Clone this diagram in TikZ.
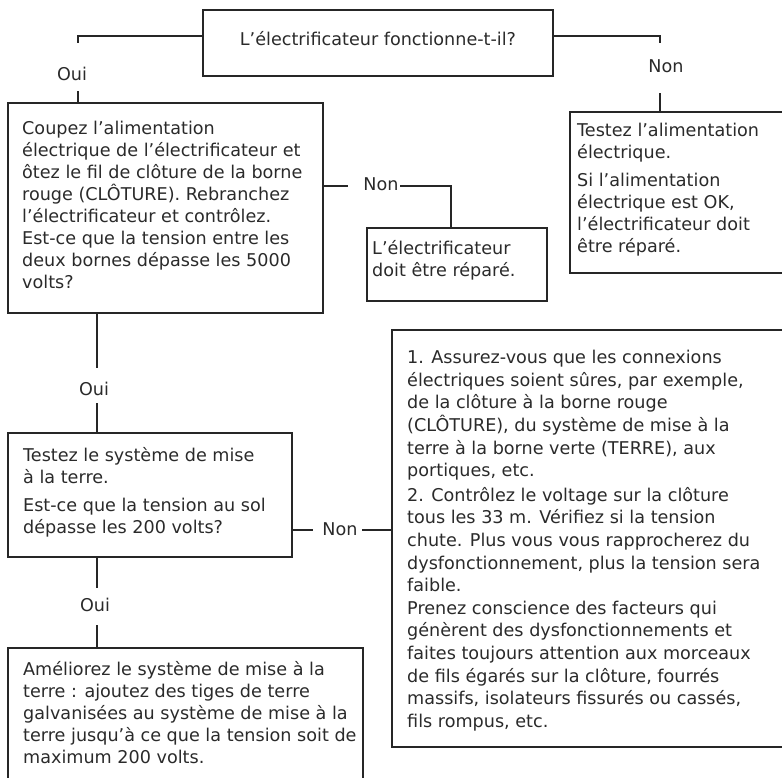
\documentclass[tikz,border=0pt]{standalone}
\usepackage{fontspec}
\setmainfont{DejaVu Sans}
\definecolor{ln}{HTML}{262626}
\definecolor{tx}{HTML}{2A2A2A}
\begin{document}
\begin{tikzpicture}[x=1pt,y=-1pt,
  box/.style={draw=ln, line width=2.8pt, anchor=north west, inner sep=0pt, outer sep=0pt},
  txt/.style={anchor=north west, inner sep=0pt, align=left, text=tx, font=\fontsize{17.6}{22}\selectfont},
  lbl/.style={inner sep=0pt, text=tx, font=\fontsize{17.6}{22}\selectfont},
  con/.style={draw=ln, line width=2.8pt}]
\useasboundingbox (0,0) rectangle (782,778);
\clip (0,0) rectangle (782,778);
% boxes
\node[box, minimum width=350pt, minimum height=66pt] (q0) at (203,10) {};
\node[box, minimum width=315pt, minimum height=210pt] (b1) at (8,103) {};
\node[box, minimum width=240pt, minimum height=161pt] (b2) at (570,112) {};
\node[box, minimum width=180pt, minimum height=73pt] (b3) at (367,228) {};
\node[box, minimum width=284pt, minimum height=124pt] (b4) at (8,433) {};
\node[box, minimum width=420pt, minimum height=417pt] (b5) at (392,330) {};
\node[box, minimum width=355pt, minimum height=160pt] (b6) at (8,648) {};
% texts
\node[lbl] (t0) at (378,39) {L’électrificateur fonctionne-t-il?};
\node[txt] (t1) at (22,118.6) {\strut Coupez l’alimentation\\ électrique de l’électrificateur et\\ ôtez le fil de clôture de la borne\\ rouge (CLÔTURE). Rebranchez\\ l’électrificateur et contrôlez.\\ Est-ce que la tension entre les\\ deux bornes dépasse les 5000\\ volts?};
\node[txt] (t2) at (577,121) {\strut Testez l’alimentation\\ électrique.\\[6pt] Si l’alimentation\\ électrique est OK,\\ l’électrificateur doit\\ être réparé.};
\node[txt] (t3) at (372,238.6) {\strut L’électrificateur\\ doit être réparé.};
\node[txt] (t4) at (23,445.6) {\strut Testez le système de mise\\ à la terre.\\[6pt] Est-ce que la tension au sol\\ dépasse les 200 volts?};
\node[txt, font=\fontsize{17.6}{22.6}\selectfont] (t5) at (407,347.6) {\strut 1. Assurez-vous que les connexions\\ électriques soient sûres, par exemple,\\ de la clôture à la borne rouge\\ (CLÔTURE), du système de mise à la\\ terre à la borne verte (TERRE), aux\\ portiques, etc.\\[2pt] 2. Contrôlez le voltage sur la clôture\\ tous les 33 m. Vérifiez si la tension\\ chute. Plus vous vous rapprocherez du\\ dysfonctionnement, plus la tension sera\\ faible.\\ Prenez conscience des facteurs qui\\ génèrent des dysfonctionnements et\\ faites toujours attention aux morceaux\\ de fils égarés sur la clôture, fourrés\\ massifs, isolateurs fissurés ou cassés,\\ fils rompus, etc.};
\node[txt] (t6) at (23,659.6) {\strut Améliorez le système de mise à la\\ terre : ajoutez des tiges de terre\\ galvanisées au système de mise à la\\ terre jusqu’à ce que la tension soit de\\ maximum 200 volts.};
% labels
\node[lbl] (oui1) at (72,74) {Oui};
\node[lbl] (non1) at (666,66) {Non};
\node[lbl] (non2) at (381,184) {Non};
\node[lbl] (oui2) at (94,389) {Oui};
\node[lbl] (non3) at (340,529) {Non};
\node[lbl] (oui3) at (95,605) {Oui};
% connector coordinates
\coordinate (c1) at (78,36);
\coordinate (c2) at (660,36);
\coordinate (c3) at (451,186);
\coordinate (c4) at (390,530);
\coordinate (c5) at (97,0);
% connectors
\draw[con] (q0.west |- c1) -- (c1) -- ++(0,7);
\draw[con] (b1.north -| c1) -- ++(0,-12);
\draw[con] (q0.east |- c2) -- (c2) -- ++(0,7);
\draw[con] (b2.north -| c2) -- ++(0,-19);
\draw[con] (b1.east |- c3) -- ++(25,0);
\draw[con] (b3.north -| c3) -- (c3) -- ++(-51,0);
\draw[con] (b4.east |- c4) -- ++(21,0);
\draw[con] (b5.west |- c4) -- ++(-30,0);
\draw[con] (b1.south -| c5) -- ++(0,55);
\draw[con] (b4.north -| c5) -- ++(0,-30);
\draw[con] (b4.south -| c5) -- ++(0,31);
\draw[con] (b6.north -| c5) -- ++(0,-23);
\end{tikzpicture}
\end{document}
